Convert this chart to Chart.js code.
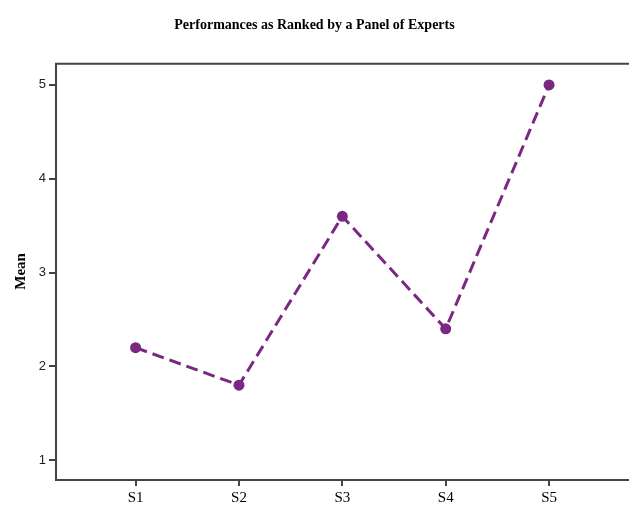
<!DOCTYPE html>
<html>
<head>
<meta charset="utf-8">
<script src="https://cdn.jsdelivr.net/npm/chart.js@4"></script>
<style>
  html, body { margin: 0; padding: 0; background: #fff; }
  #wrap { width: 629px; height: 512px; }
</style>
</head>
<body>
<div id="wrap"><canvas id="myChart" width="629" height="512"></canvas></div>
<script>
// chart data
const categories = ["S1", "S2", "S3", "S4", "S5"];
const meanValues = [2.2, 1.8, 3.6, 2.4, 5.0];
const yTicks = [1, 2, 3, 4, 5];

const lineColor = "#7a2882";
const axisColor = "#444";

// top and bottom edges of the plot frame run off the right side
const frameLines = {
  id: "frameLines",
  afterDraw(chart) {
    const { ctx, chartArea } = chart;
    ctx.save();
    ctx.strokeStyle = axisColor;
    ctx.lineWidth = 2;
    ctx.beginPath();
    ctx.moveTo(chartArea.left - 1, chartArea.top);
    ctx.lineTo(chart.width, chartArea.top);
    ctx.moveTo(chartArea.left - 1, chartArea.bottom + 1);
    ctx.lineTo(chart.width, chartArea.bottom + 1);
    ctx.stroke();
    ctx.restore();
  },
};

const ctx = document.getElementById("myChart").getContext("2d");

new Chart(ctx, {
  type: "line",
  data: {
    datasets: [
      {
        label: "Mean",
        data: meanValues.map((v, i) => ({ x: i, y: v })),
        borderColor: lineColor,
        backgroundColor: lineColor,
        borderWidth: 3,
        borderDash: [12, 6],
        pointRadius: 5.5,
        pointBackgroundColor: lineColor,
        pointBorderWidth: 0,
        tension: 0,
      },
    ],
  },
  options: {
    responsive: false,
    animation: false,
    layout: { padding: 0 },
    plugins: {
      legend: { display: false },
      tooltip: { enabled: false },
      title: {
        display: true,
        text: "Performances as Ranked by a Panel of Experts",
        color: "#000",
        font: { family: "Liberation Serif", size: 14, weight: "bold" },
        padding: { top: 17, bottom: 30 },
      },
    },
    scales: {
      x: {
        type: "linear",
        min: -0.77,
        max: 4.72,
        afterBuildTicks: (scale) => {
          scale.ticks = categories.map((c, i) => ({ value: i }));
        },
        afterFit: (scale) => {
          scale.height = 33;
        },
        ticks: {
          callback: (value) => categories[value],
          color: "#000",
          font: { family: "Liberation Serif", size: 15 },
          padding: 3,
          maxRotation: 0,
        },
        grid: {
          drawOnChartArea: false,
          drawTicks: true,
          tickLength: 7,
          color: axisColor,
          lineWidth: 2,
        },
        border: { display: false },
      },
      y: {
        type: "linear",
        min: 0.8,
        max: 5.225,
        afterBuildTicks: (scale) => {
          scale.ticks = yTicks.map((v) => ({ value: v }));
        },
        afterFit: (scale) => {
          scale.width = 56;
        },
        title: {
          display: true,
          text: "Mean",
          color: "#000",
          font: { family: "Liberation Serif", size: 15, weight: "bold" },
          padding: { top: 12, bottom: 0 },
        },
        ticks: {
          color: "#222",
          font: { family: "Liberation Sans", size: 13 },
          padding: 3,
        },
        grid: {
          drawOnChartArea: false,
          drawTicks: true,
          tickLength: 7,
          color: axisColor,
          lineWidth: 2,
        },
        border: { display: true, color: axisColor, width: 2 },
      },
    },
  },
  plugins: [frameLines],
});
</script>
</body>
</html>
